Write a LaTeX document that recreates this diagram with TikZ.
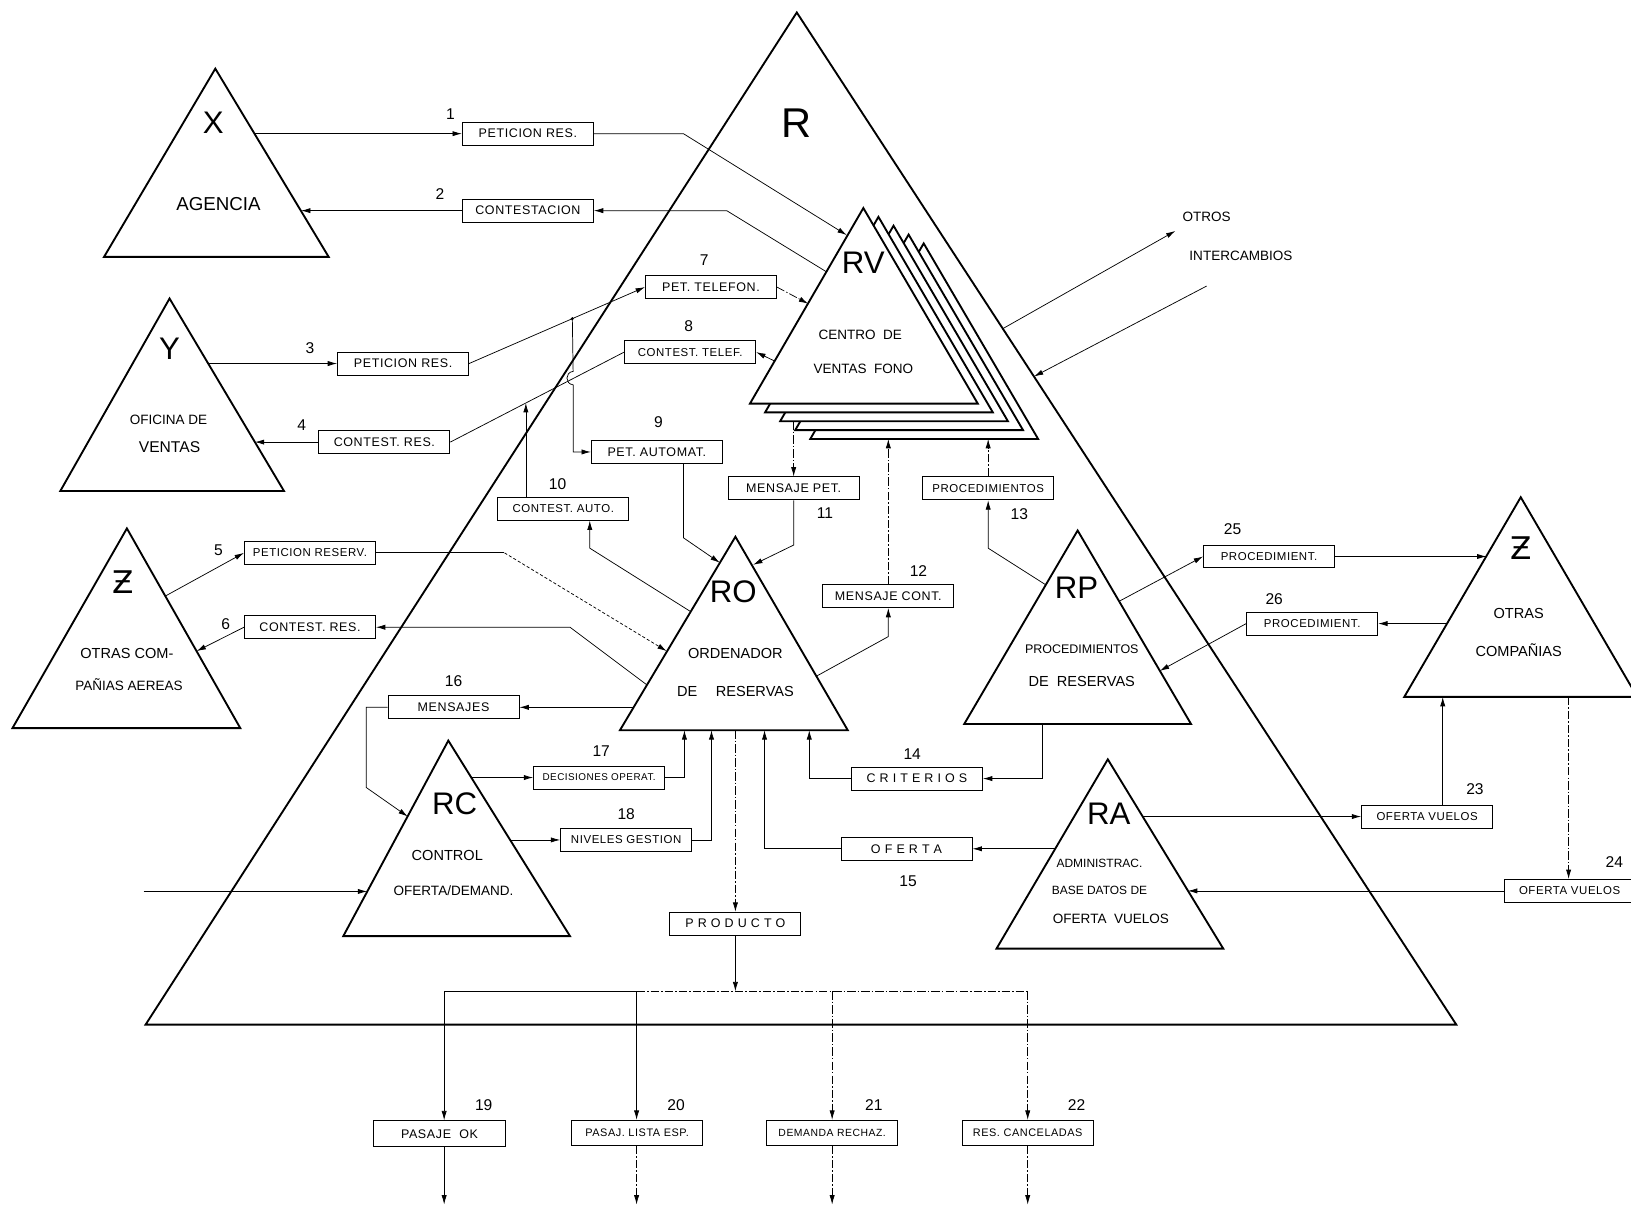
\documentclass[tikz,border=0pt]{standalone}
\usepackage{fontspec}
\setmainfont{Liberation Sans}
\newfontfamily\dejavu{DejaVu Sans}
\usetikzlibrary{arrows.meta,calc}
\newcommand{\bxf}[1]{\fontsize{#1}{#1}\selectfont\addfontfeature{LetterSpace=5}}
\begin{document}
\begin{tikzpicture}[x=1pt,y=-1pt,
  tri/.style={line width=1.8pt,line join=miter,fill=white},
  ln/.style={line width=0.7pt},
  conn/.style={ln,-{Latex[length=9pt,width=5pt]}},
  dd/.style={dash pattern=on 8pt off 2pt on 1.5pt off 2pt},
  bx/.style={draw,line width=0.9pt,minimum width=126pt,minimum height=22pt,inner sep=1pt,font=\bxf{12}},
  num/.style={font=\fontsize{15}{15}\selectfont},
  lbl/.style={font=\fontsize{30}{30}\selectfont},
  txt/.style={font=\fontsize{14}{16}\selectfont},
]
\useasboundingbox (0,0) rectangle (1568,1161);

% ---------- triangles ----------
\draw[tri] (766,12) -- (1400,985) -- (140,985) -- cycle;          % R
\draw[tri] (207,66) -- (316,247) -- (100,247) -- cycle;           % X
\draw[tri] (163,287) -- (273,472) -- (58,472) -- cycle;           % Y
\draw[tri] (122,508) -- (231,700) -- (12,700) -- cycle;           % Z left
\foreach \k in {4,3,2,1,0}{
  \draw[tri,shift={({\k*14.5},{\k*8.5})}] (830,200) -- (940,388) -- (721,388) -- cycle; % RV stack
}
\draw[tri] (707,516) -- (815,702) -- (596,702) -- cycle;          % RO
\draw[tri] (1036,510) -- (1145,696) -- (927,696) -- cycle;        % RP
\draw[tri] (1462,478) -- (1574,670) -- (1350,670) -- cycle;       % Z right
\draw[tri] (431,712) -- (548,900) -- (330,900) -- cycle;          % RC
\draw[tri] (1065,730) -- (1176,912) -- (958,912) -- cycle;        % RA

% ---------- triangle texts ----------
\node[font=\fontsize{40}{40}\selectfont] (tR) at (766,118) {R};
\node[lbl] (tX) at (205,118) {X};
\node[font=\fontsize{18}{18}\selectfont] (tX2) at (210,196) {AGENCIA};
\node[lbl] (tY) at (163,335) {Y};
\node[font=\fontsize{13}{13}\selectfont] (tY2) at (162,404) {OFICINA DE};
\node[font=\fontsize{15}{15}\selectfont] (tY3) at (163,430) {VENTAS};
\node[lbl] (tZ) at (118,560) {\dejavu Ƶ};
\node[txt] (tZ2) at (122,628) {OTRAS COM-};
\node[font=\fontsize{13}{13}\selectfont] (tZ3) at (124,658) {PAÑIAS AEREAS};
\node[lbl] (tRV) at (830,253) {RV};
\node[font=\fontsize{13}{13}\selectfont] (tRV2) at (827,322) {CENTRO \ DE};
\node[font=\fontsize{13}{13}\selectfont] (tRV3) at (830,355) {VENTAS \ FONO};
\node[lbl] (tRO) at (705,569) {RO};
\node[txt] (tRO2) at (707,628) {ORDENADOR};
\node[txt] (tRO3) at (707,665) {DE \quad RESERVAS};
\node[lbl] (tRP) at (1035,565) {RP};
\node[font=\fontsize{12}{12}\selectfont] (tRP2) at (1040,624) {PROCEDIMIENTOS};
\node[txt] (tRP3) at (1040,655) {DE \ RESERVAS};
\node[lbl] (tZR) at (1462,527) {\dejavu Ƶ};
\node[txt] (tZR2) at (1460,590) {OTRAS};
\node[txt] (tZR3) at (1460,625) {COMPAÑIAS};
\node[lbl] (tRC) at (437,773) {RC};
\node[txt] (tRC2) at (430,822) {CONTROL};
\node[font=\fontsize{13}{13}\selectfont] (tRC3) at (436,856) {OFERTA/DEMAND.};
\node[lbl] (tRA) at (1066,782) {RA};
\node[font=\fontsize{11.5}{12}\selectfont] (tRA2) at (1057,830) {ADMINISTRAC.};
\node[font=\fontsize{11.5}{12}\selectfont] (tRA3) at (1057,856) {BASE DATOS DE};
\node[font=\fontsize{13}{13}\selectfont] (tRA4) at (1068,883) {OFERTA \ VUELOS};
\node[font=\fontsize{13}{13}\selectfont] (tOt1) at (1160,208) {OTROS};
\node[font=\fontsize{13}{13}\selectfont] (tOt2) at (1193,246) {INTERCAMBIOS};

% ---------- boxes ----------
\node[bx] (b1) at (507.5,128.5) {PETICION RES.};
\node[bx] (b2) at (507.5,202.5) {CONTESTACION};
\node[bx] (b3) at (387.5,349.5) {PETICION RES.};
\node[bx] (b4) at (369.5,425) {CONTEST. RES.};
\node[bx,font=\bxf{11}] (b5) at (298,531.5) {PETICION RESERV.};
\node[bx] (b6) at (298,603) {CONTEST. RES.};
\node[bx] (b7) at (683.5,276) {PET. TELEFON.};
\node[bx,font=\bxf{11}] (b8) at (663.5,338.5) {CONTEST. TELEF.};
\node[bx] (b9) at (631.5,434.5) {PET. AUTOMAT.};
\node[bx,font=\bxf{11}] (b10) at (541.5,489) {CONTEST. AUTO.};
\node[bx] (b11) at (763,469.5) {MENSAJE PET.};
\node[bx] (b12) at (854,573) {MENSAJE CONT.};
\node[bx,font=\bxf{11}] (b13) at (950,469.5) {PROCEDIMIENTOS};
\node[bx] (b14) at (881.5,748.5) {C R I T E R I O S};
\node[bx] (b15) at (871.5,816) {O F E R T A};
\node[bx] (b16) at (436,680) {MENSAJES};
\node[bx,font=\bxf{9.5}] (b17) at (576,747.5) {DECISIONES OPERAT.};
\node[bx,font=\bxf{11}] (b18) at (602,807.5) {NIVELES GESTION};
\node[bx] (bP) at (707,888) {P R O D U C T O};
\node[bx,minimum height=25pt] (b19) at (422.5,1090) {PASAJE \ OK};
\node[bx,minimum height=24pt,font=\bxf{10.5}] (b20) at (612.5,1089) {PASAJ. LISTA ESP.};
\node[bx,minimum height=24pt,font=\bxf{10}] (b21) at (800,1089) {DEMANDA RECHAZ.};
\node[bx,minimum height=24pt,font=\bxf{10.5}] (b22) at (988,1089) {RES. CANCELADAS};
\node[bx,font=\bxf{11}] (b23) at (1372,785) {OFERTA VUELOS};
\node[bx,font=\bxf{11}] (b24) at (1509,856.5) {OFERTA VUELOS};
\node[bx,font=\bxf{11}] (b25) at (1220,535) {PROCEDIMIENT.};
\node[bx,font=\bxf{11}] (b26) at (1261.5,599.5) {PROCEDIMIENT.};

% ---------- numbers ----------
\node[num] (n1) at (433,110) {1};
\node[num] (n2) at (423,187) {2};
\node[num] (n3) at (298,335) {3};
\node[num] (n4) at (290,409) {4};
\node[num] (n5) at (210,529) {5};
\node[num] (n6) at (217,600) {6};
\node[num] (n7) at (677,250) {7};
\node[num] (n8) at (662,314) {8};
\node[num] (n9) at (633,406) {9};
\node[num] (n10) at (536,465) {10};
\node[num] (n11) at (793,493) {11};
\node[num] (n12) at (883,549) {12};
\node[num] (n13) at (980,494) {13};
\node[num] (n14) at (877,725) {14};
\node[num] (n15) at (873,847) {15};
\node[num] (n16) at (436,655) {16};
\node[num] (n17) at (578,722) {17};
\node[num] (n18) at (602,783) {18};
\node[num] (n19) at (465,1062) {19};
\node[num] (n20) at (650,1062) {20};
\node[num] (n21) at (840,1062) {21};
\node[num] (n22) at (1035,1062) {22};
\node[num] (n23) at (1418,759) {23};
\node[num] (n24) at (1552,829) {24};
\node[num] (n25) at (1185,509) {25};
\node[num] (n26) at (1225,576) {26};

% ---------- attachment points ----------
\coordinate (x1) at (244.5,128.5);
\coordinate (x2) at (289.5,202.5);
\coordinate (y1) at (200.5,349.5);
\coordinate (y2) at (245,425);
\coordinate (z1) at (159,573);
\coordinate (z2) at (189,626);
\coordinate (rv1) at (814,226);
\coordinate (rv2) at (794,261);
\coordinate (rv3) at (744.5,347);
\coordinate (rv4) at (777,292);
\coordinate (rv11) at (763,405);
\coordinate (rv12) at (854,422);
\coordinate (rv13) at (950,422);
\coordinate (ro1) at (641,626);
\coordinate (ro2) at (622,658.5);
\coordinate (ro3) at (664,588);
\coordinate (ro4) at (609,680);
\coordinate (ro5) at (707,702);
\coordinate (ro9) at (692,541);
\coordinate (ro11) at (724,543);
\coordinate (ro12) at (785,650);
\coordinate (ro14) at (778,702);
\coordinate (ro15) at (735,702);
\coordinate (ro17) at (658,702);
\coordinate (ro18) at (684,702);
\coordinate (rc1) at (392,785);
\coordinate (rc2) at (453,747.5);
\coordinate (rc3) at (490.5,807.5);
\coordinate (rc4) at (353,857);
\coordinate (in1) at (138,857);
\coordinate (rp1) at (1005,562);
\coordinate (rp2) at (1002,696);
\coordinate (rp3) at (1076,578);
\coordinate (rp4) at (1115,645);
\coordinate (ra1) at (1014.5,816);
\coordinate (ra2) at (1098.5,785);
\coordinate (ra3) at (1142,856.5);
\coordinate (zr1) at (1387,670);
\coordinate (zr2) at (1508,670);
\coordinate (zr3) at (1429,535);
\coordinate (zr4) at (1391,599.5);
\coordinate (r1) at (964,316);
\coordinate (r2) at (994,362);
\coordinate (o1) at (1130,222);
\coordinate (o2) at (1160,275);
\coordinate (br1) at (427,953);
\coordinate (br2) at (612,953);
\coordinate (br3) at (800,953);
\coordinate (br4) at (988,953);
\coordinate (e19) at (427,1158);
\coordinate (e20) at (612,1158);
\coordinate (e21) at (800,1158);
\coordinate (e22) at (988,1158);

% ---------- connectors ----------
% X
\draw[conn] (x1) -- (b1.west);
\draw[conn] (b1.east) -- (657,128.5) -- (rv1);
\draw[conn] (rv2) -- (698.6,202.5) -- (b2.east);
\draw[conn] (b2.west) -- (x2);
% Y
\draw[conn] (y1) -- (b3.west);
\draw[conn] (b3.east) -- (b7.west);
\coordinate (j3) at ($(b3.east)!0.587!(b7.west)$);
\fill (j3) circle (1.6pt);
\draw[conn] (j3) -- (551,357) .. controls (543,358) and (543,369) .. (551,370) -- (551,434.5) -- (b9.west);
\draw[ln] (b8.west) -- (b4.east);
\coordinate (j10) at ($(b8.west)!0.5655!(b4.east)$);
\draw[conn] (b10.north -| j10) -- (j10);
\draw[conn] (b4.west) -- (y2);
\draw[conn] (rv3) -- (b8.east);
\draw[conn,dd] (b7.east) -- (rv4);
% Z left
\draw[conn] (z1) -- (b5.west);
\draw[ln] (b5.east) -- (485,531.5);
\draw[conn,densely dashed] (485,531.5) -- (ro1);
\draw[conn] (ro2) -- (548,603) -- (b6.east);
\draw[conn] (b6.west) -- (z2);
% RO
\draw[conn] (ro3) -- (567,527) -- ([xshift=25.5pt]b10.south);
\draw[conn] ([xshift=25.5pt]b9.south) -- (657,517) -- (ro9);
\draw[conn,dd] (rv11) -- (b11.north);
\draw[conn] (b11.south) -- (763,524) -- (ro11);
\draw[conn] (ro12) -- (854,612) -- (b12.south);
\draw[conn,dd] (b12.north) -- (rv12);
\draw[conn] (ro4) -- (b16.east);
\draw[conn] (b16.west) -- (352,680) -- (352,757) -- (rc1);
\draw[conn] (rc2) -- (b17.west);
\draw[conn] (b17.east) -| (ro17);
\draw[conn] (rc3) -- (b18.west);
\draw[conn] (b18.east) -| (ro18);
\draw[conn] (in1) -- (rc4);
% RP
\draw[conn] (rp1) -- (950,527) -- (b13.south);
\draw[conn,dd] (b13.north) -- (rv13);
\draw[conn] (rp2) |- (b14.east);
\draw[conn] (b14.west) -| (ro14);
\draw[conn] (rp3) -- (b25.west);
\draw[conn] (b25.east) -- (zr3);
\draw[conn] (zr4) -- (b26.east);
\draw[conn] (b26.west) -- (rp4);
% RA
\draw[conn] (ra1) -- (b15.east);
\draw[conn] (b15.west) -| (ro15);
\draw[conn] (ra2) -- (b23.west);
\draw[conn] (b23.north -| zr1) -- (zr1);
\draw[conn,dd] (zr2) -- (b24.north -| zr2);
\draw[conn] (b24.west) -- (ra3);
% otros intercambios
\draw[conn] (r1) -- (o1);
\draw[conn] (o2) -- (r2);
% product
\draw[conn,dd] (ro5) -- (bP.north);
\draw[conn] (bP.south) -- (707,953);
\draw[ln] (br1) -- (br2);
\draw[ln,dd] (br2) -- (br4);
\draw[conn] (br1) -- (br1 |- b19.north);
\draw[conn] (br2) -- (br2 |- b20.north);
\draw[conn,dd] (br3) -- (br3 |- b21.north);
\draw[conn,dd] (br4) -- (br4 |- b22.north);
\draw[conn] (b19.south -| e19) -- (e19);
\draw[conn,dd] (b20.south -| e20) -- (e20);
\draw[conn,dd] (b21.south -| e21) -- (e21);
\draw[conn,dd] (b22.south -| e22) -- (e22);
\end{tikzpicture}
\end{document}
